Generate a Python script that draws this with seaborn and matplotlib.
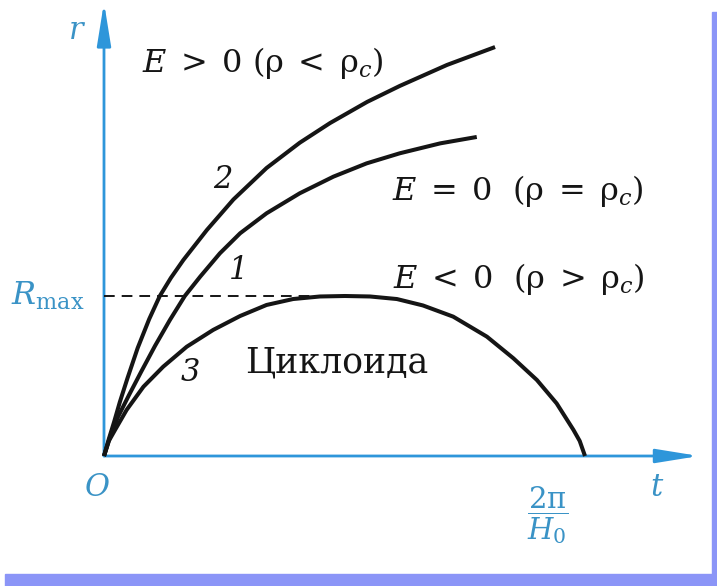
import matplotlib
matplotlib.use("Agg")
import pandas as pd
import matplotlib.pyplot as plt
from matplotlib.patches import Rectangle
import seaborn as sns

# ==================== data ====================
# t in units of 2pi/H0, r in units of Rmax

# curve 2: E > 0 (open universe)
t_open = [0.0, 0.010, 0.021, 0.033, 0.049, 0.070, 0.094, 0.116, 0.139, 0.165,
          0.214, 0.269, 0.338, 0.407, 0.470, 0.547, 0.615, 0.713, 0.813]
r_open = [0.0, 0.106, 0.213, 0.338, 0.488, 0.675, 0.856, 1.000, 1.113, 1.225,
          1.413, 1.603, 1.800, 1.958, 2.081, 2.213, 2.313, 2.444, 2.556]

# curve 1: E = 0 (flat)
t_flat = [0.0, 0.012, 0.029, 0.052, 0.077, 0.106, 0.137, 0.168, 0.200,
          0.241, 0.283, 0.338, 0.407, 0.477, 0.546, 0.615, 0.699, 0.775]
r_flat = [0.0, 0.113, 0.244, 0.381, 0.525, 0.688, 0.850, 1.000, 1.121,
          1.267, 1.392, 1.517, 1.642, 1.746, 1.829, 1.892, 1.954, 1.994]

# curve 3: E < 0, cycloid
t_closed = [0.0, 0.010, 0.023, 0.047, 0.082, 0.123, 0.172, 0.227, 0.283, 0.338,
            0.393, 0.449, 0.501, 0.553, 0.609, 0.663, 0.726, 0.796, 0.851,
            0.900, 0.941, 0.976, 0.989, 1.0]
r_closed = [0.0, 0.094, 0.163, 0.288, 0.433, 0.558, 0.683, 0.788, 0.875, 0.944,
            0.981, 0.997, 1.000, 0.997, 0.981, 0.941, 0.871, 0.746, 0.611,
            0.475, 0.329, 0.163, 0.094, 0.0]

curve_names = ["2", "1", "3"]
r_max = 1.0

# ==================== style ====================
sns.set_theme(style="white")
plt.rcParams["font.family"] = ["DejaVu Serif", "DejaVu Sans"]
plt.rcParams["mathtext.fontset"] = "dejavuserif"

INK = "#151515"
AXIS_BLUE = "#2e96da"
LABEL_BLUE = "#3a93c6"
FRAME = "#8b95f7"

W, H = 717, 586
ORIGIN = (104, 456)        # pixel position of O
UNIT_T, UNIT_R = 481, 160  # pixels per unit

fig = plt.figure(figsize=(W / 100, H / 100), dpi=100)
fig.patch.set_facecolor("white")
ax = fig.add_axes([0, 0, 1, 1])
ax.set_xlim(-ORIGIN[0] / UNIT_T, (W - ORIGIN[0]) / UNIT_T)
ax.set_ylim((ORIGIN[1] - H) / UNIT_R, ORIGIN[1] / UNIT_R)
ax.axis("off")

# frame (shadow on right and bottom)
fig.add_artist(Rectangle((712 / W, 0), 1 - 712 / W, 1 - 12 / H,
                         transform=fig.transFigure, color=FRAME, zorder=0))
fig.add_artist(Rectangle((5 / W, 0), 1 - 5 / W, (H - 574) / H,
                         transform=fig.transFigure, color=FRAME, zorder=0))

# ==================== curves ====================
df = pd.concat([
    pd.DataFrame({"t": t_open, "r": r_open, "curve": "2"}),
    pd.DataFrame({"t": t_flat, "r": r_flat, "curve": "1"}),
    pd.DataFrame({"t": t_closed, "r": r_closed, "curve": "3"}),
])
for name in curve_names:
    sub = df[df["curve"] == name]
    sns.lineplot(data=sub, x="t", y="r", sort=False, estimator=None,
                 color=INK, lw=2.9, ax=ax, solid_joinstyle="round",
                 solid_capstyle="butt", zorder=4)

# R_max level
ax.plot([0, 0.47], [r_max, r_max], color=INK, lw=1.4,
        linestyle=(0, (5.5, 3.6)), zorder=3)

# ==================== axes with arrows ====================
arrow_kw = dict(arrowstyle="-|>,head_length=2.6,head_width=0.42",
                mutation_scale=10, color=AXIS_BLUE, lw=2.0,
                shrinkA=0, shrinkB=0)
ax.annotate("", xy=(0, 2.835), xytext=(0, 0), arrowprops=arrow_kw, zorder=2)
ax.annotate("", xy=(1.237, 0), xytext=(0, 0), arrowprops=arrow_kw, zorder=2)

# ==================== labels ====================
fs = 23
ax.text(0.079, 2.40, r"$E\;>\;0\ (\mathrm{\rho}\;<\;\mathrm{\rho}_c)$", fontsize=fs,
        color=INK, ha="left", va="baseline")
ax.text(0.599, 1.60, r"$E\;=\;0\ \ (\mathrm{\rho}\;=\;\mathrm{\rho}_c)$", fontsize=fs,
        color=INK, ha="left", va="baseline")
ax.text(0.601, 1.05, r"$E\;<\;0\ \ (\mathrm{\rho}\;>\;\mathrm{\rho}_c)$", fontsize=fs,
        color=INK, ha="left", va="baseline")
ax.text(0.293, 0.525, "Циклоида", fontsize=25, color=INK,
        ha="left", va="baseline")

for name, (tx, ty) in zip(curve_names, [(0.247, 1.725), (0.279, 1.16), (0.179, 0.52)]):
    ax.text(tx, ty, name, fontsize=22, color=INK, style="italic",
            ha="center", va="center")

ax.text(-0.056, 2.66, r"$r$", fontsize=22, color=LABEL_BLUE, ha="center", va="center")
ax.text(-0.193, 0.944, r"$R_{\mathrm{max}}$", fontsize=23, color=LABEL_BLUE,
        ha="left", va="baseline")
ax.text(-0.015, -0.20, r"$O$", fontsize=22, color=LABEL_BLUE, ha="center", va="center")
ax.text(1.15, -0.20, r"$t$", fontsize=22, color=LABEL_BLUE, ha="center", va="center")
ax.text(0.923, -0.37, r"$\dfrac{2\mathrm{\pi}}{H_0}$", fontsize=21, color=LABEL_BLUE,
        ha="center", va="center")

fig.savefig("out.png", dpi=100)
plt.close(fig)
